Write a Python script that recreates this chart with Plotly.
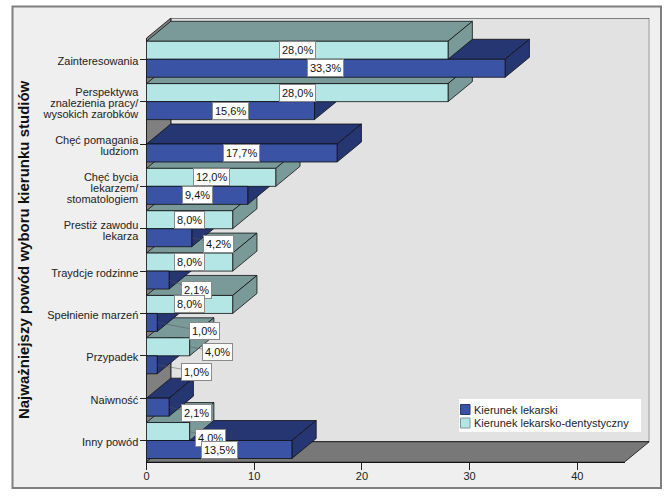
import plotly.graph_objects as go

categories = ["Zainteresowania", "Perspektywa<br>znalezienia pracy/<br>wysokich zarobków",
              "Chęć pomagania<br>ludziom", "Chęć bycia<br>lekarzem/<br>stomatologiem",
              "Prestiż zawodu<br>lekarza", "Traydcje rodzinne", "Spełnienie marzeń",
              "Przypadek", "Naiwność", "Inny powód"]
lekarski = [33.3, 15.6, 17.7, 9.4, 4.2, 2.1, 1.0, 1.0, 2.1, 13.5]
dentystyczny = [28.0, 28.0, 0, 12.0, 8.0, 8.0, 8.0, 4.0, 0, 4.0]
x_ticks = [0, 10, 20, 30, 40]
name_dark = "Kierunek lekarski"
name_light = "Kierunek lekarsko-dentystyczny"
y_title = "Najważniejszy powód wyboru kierunku studiów"

# Pixel positions of data labels pushed off their bars, relative to the bar's end
# (series, category index) -> (dx, dy)
label_offsets = {
    ("d", 4): (27, 6), ("d", 5): (27, 10), ("d", 6): (47, 9), ("l", 7): (28, 5),
    ("d", 7): (39, 7), ("d", 8): (27, 6), ("l", 9): (21, 6),
}

W, H = 669, 500
PX_L, PX_R, PX_T, PX_B = 146.5, 625.0, 38.1, 461.7
PX_PER_X, PX_PER_Y = 10.77, 42.38
DEPTH_X, DEPTH_Y = 24.3, 20.0
X_MAX = (PX_R - PX_L) / PX_PER_X
DX, DY = DEPTH_X / PX_PER_X, DEPTH_Y / PX_PER_Y
BAR = 18.0 / PX_PER_Y
LINE_STEP = 11.0 / PX_PER_Y
LINE_SHIFT = 1.7 / PX_PER_Y
EDGE = "#101010"
DARK = ("#3a53a5", "#263673")
LIGHT = ("#b4e6e6", "#7a9a9a")
y0, y1 = -0.5, 9.5

fig = go.Figure()

# Front-plane axes carry ticks, labels and title; the overlay holds the drawn boxes
fig.add_trace(go.Scatter(x=[None], y=[None], xaxis="x", yaxis="y", showlegend=False))
fig.add_trace(go.Scatter(x=[None], y=[None], xaxis="x", yaxis="y3", showlegend=False))


def poly(xs, ys, fill, width=0.8, line=EDGE, name=None):
    fig.add_trace(go.Scatter(
        x=xs + xs[:1], y=ys + ys[:1], mode="lines", fill="toself", fillcolor=fill,
        line=dict(color=line, width=width), hoverinfo="skip", xaxis="x2", yaxis="y2",
        name=name, showlegend=False,
    ))


# walls and floor
poly([DX, X_MAX + DX, X_MAX + DX, DX], [y0 - DY, y0 - DY, y1 - DY, y1 - DY], "#e2e2e2")
poly([0, DX, DX, 0], [y0, y0 - DY, y1 - DY, y1], "#808080")
poly([0, X_MAX, X_MAX + DX, DX], [y1, y1, y1 - DY, y1 - DY], "#787878")


def depth(v, top, colors, name):
    bot = top + BAR
    poly([0, DX, v + DX, v], [top, top - DY, top - DY, top], colors[1], name=name)
    poly([v, v + DX, v + DX, v], [top, top - DY, bot - DY, bot], colors[1], name=name)


def front(v, top, colors, name):
    poly([0, v, v, 0], [top, top, top + BAR, top + BAR], colors[0], name=name)


# Painter's order: depth faces from the lowest category up (the lower bar of a pair
# first, as it sits under the upper one), then all front faces
for i in reversed(range(len(categories))):
    depth(lekarski[i], i, DARK, name_dark)
    if dentystyczny[i] > 0:
        depth(dentystyczny[i], i - BAR, LIGHT, name_light)
for i in reversed(range(len(categories))):
    if dentystyczny[i] > 0:
        front(dentystyczny[i], i - BAR, LIGHT, name_light)
    front(lekarski[i], i, DARK, name_dark)

annotations = []
for i in range(len(categories)):
    for key, v, yc in (("l", dentystyczny[i], i - BAR / 2), ("d", lekarski[i], i + BAR / 2)):
        if v <= 0:
            continue
        off = label_offsets.get((key, i))
        a = dict(x=v / 2, y=yc, xref="x2", yref="y2", text=f"{v:.1f}%".replace(".", ","),
                 font=dict(family="Liberation Sans", size=11, color="#111111"),
                 bgcolor="white", bordercolor="#8a8a8a", borderwidth=1, borderpad=2,
                 xanchor="center", yanchor="middle", showarrow=False)
        if off:
            a.update(x=v, showarrow=True, arrowhead=0, arrowwidth=0.5, arrowcolor="#555555",
                     ax=off[0], ay=off[1], axref="pixel", ayref="pixel")
        annotations.append(a)

# Hand-built legend (the native swatch cannot be as small as the reference's)
LEG_X0, LEG_X1, LEG_Y0, LEG_Y1 = 459, 641, 399, 432
shapes = [
    dict(type="rect", xref="paper", yref="paper", x0=12.5 / W, x1=661 / W,
         y0=1 - 488 / H, y1=1 - 6.5 / H, fillcolor="#efefef",
         line=dict(color="#7f7f7f", width=2), layer="below"),
    dict(type="rect", xref="paper", yref="paper", x0=LEG_X0 / W, x1=LEG_X1 / W,
         y0=1 - LEG_Y1 / H, y1=1 - LEG_Y0 / H, fillcolor="white", line=dict(width=0),
         layer="above"),
]
for name, colors, yc in ((name_dark, DARK, 409.5), (name_light, LIGHT, 423.0)):
    shapes.append(dict(type="rect", xref="paper", yref="paper", x0=460.5 / W, x1=470 / W,
                       y0=1 - (yc + 5) / H, y1=1 - (yc - 5) / H, fillcolor=colors[0],
                       line=dict(color=colors[1], width=1), layer="above"))
    annotations.append(dict(x=472 / W, y=1 - yc / H, xref="paper", yref="paper", text=name,
                            showarrow=False, xanchor="left", yanchor="middle",
                            font=dict(family="Liberation Sans", size=11, color="#222222")))

# Category labels, one tick per text line, so the line pitch can match the reference
label_pos, label_txt = [], []
for i, cat in enumerate(categories):
    parts = cat.split("<br>")
    for j, part in enumerate(parts):
        label_pos.append(i + LINE_SHIFT + (j - (len(parts) - 1) / 2) * LINE_STEP)
        label_txt.append(part)

fig.update_layout(
    width=W, height=H, margin=dict(l=0, r=0, t=0, b=0), autosize=False,
    paper_bgcolor="white", plot_bgcolor="rgba(0,0,0,0)",
    font=dict(family="Liberation Sans", size=11, color="#222222"),
    showlegend=False,
    xaxis=dict(domain=[PX_L / W, PX_R / W], range=[0, X_MAX], tickvals=x_ticks,
               ticks="outside", ticklen=7, tickcolor="#222222", showgrid=False, zeroline=False,
               showline=True, linecolor=EDGE, linewidth=1, automargin=False,
               ticklabelstandoff=-3, tickfont=dict(size=11)),
    yaxis=dict(domain=[1 - PX_B / H, 1 - PX_T / H], range=[y1, y0],
               tickmode="array", tickvals=list(range(len(categories))), showticklabels=False,
               ticks="outside", ticklen=6, tickcolor="#222222", showgrid=False, zeroline=False,
               showline=True, linecolor=EDGE, linewidth=1, automargin=False,
               title=dict(text=y_title, standoff=106,
                          font=dict(family="Liberation Sans", size=15, color="#111111",
                                    weight="bold"))),
    yaxis3=dict(overlaying="y", side="left", anchor="x", range=[y1, y0],
                tickmode="array", tickvals=label_pos, ticktext=label_txt,
                ticks="outside", ticklen=6, tickcolor="rgba(0,0,0,0)", showgrid=False,
                zeroline=False, showline=False, automargin=False, ticklabelstandoff=-1,
                tickfont=dict(size=11)),
    xaxis2=dict(domain=[PX_L / W, (PX_R + DEPTH_X) / W], range=[0, X_MAX + DX], visible=False,
                anchor="y2"),
    yaxis2=dict(domain=[1 - PX_B / H, 1 - (PX_T - DEPTH_Y) / H], range=[y1, y0 - DY],
                visible=False, anchor="x2"),
    annotations=annotations,
    shapes=shapes,
)
fig.write_html("out.html", post_script="document.body.style.margin='0';",
               config={"displayModeBar": False})
